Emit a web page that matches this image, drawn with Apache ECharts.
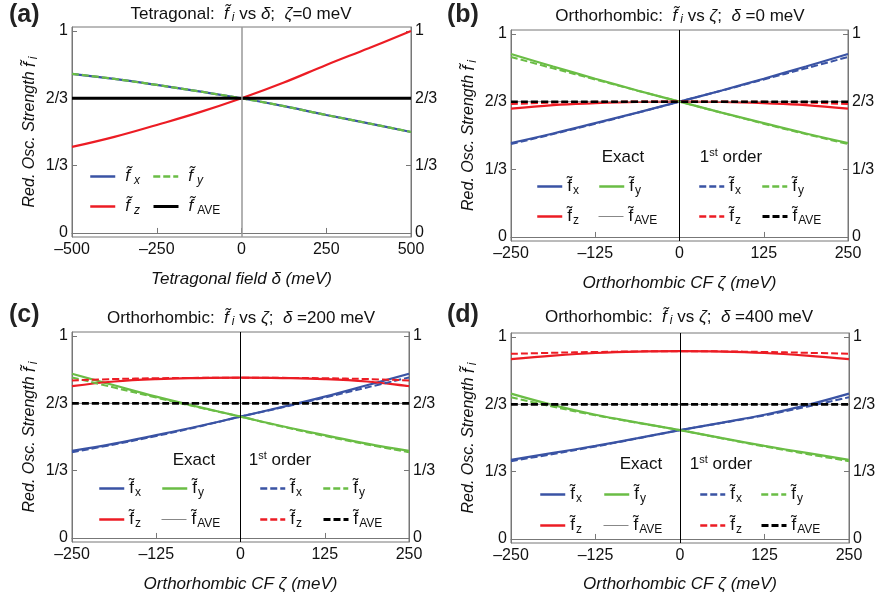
<!DOCTYPE html>
<html><head><meta charset="utf-8">
<script src="https://cdn.jsdelivr.net/npm/echarts@6/dist/echarts.min.js"></script>
<style>html,body{margin:0;padding:0;background:#fff}#c{width:881px;height:600px}</style>
</head><body><div id="c"></div>
<script>
// ---------- data ----------
const deltaA = [-500, -375, -250, -125, 0, 125, 250, 375, 500];
const aFx = [0.788, 0.763, 0.733, 0.701, 0.667, 0.628, 0.584, 0.543, 0.500];
const aFy = [0.788, 0.763, 0.733, 0.701, 0.667, 0.628, 0.584, 0.543, 0.500];
const aFz = [0.426, 0.476, 0.535, 0.597, 0.667, 0.745, 0.832, 0.915, 1.000];
const aFave = [2/3, 2/3, 2/3, 2/3, 2/3, 2/3, 2/3, 2/3, 2/3];

const zeta = [-250, -187.5, -125, -62.5, 0, 62.5, 125, 187.5, 250];
const aveLine = [2/3, 2/3, 2/3, 2/3, 2/3, 2/3, 2/3, 2/3, 2/3];

const bFxE = [0.463, 0.510, 0.561, 0.613, 0.667, 0.722, 0.780, 0.840, 0.902];
const bFyE = [0.902, 0.840, 0.780, 0.722, 0.667, 0.613, 0.561, 0.510, 0.463];
const bFzE = [0.632, 0.650, 0.659, 0.665, 0.667, 0.665, 0.659, 0.650, 0.632];
const bFx1 = [0.458, 0.507, 0.558, 0.612, 0.667, 0.721, 0.776, 0.831, 0.887];
const bFy1 = [0.887, 0.831, 0.776, 0.721, 0.667, 0.612, 0.558, 0.507, 0.458];
const bFz1 = [0.655, 0.662, 0.666, 0.667, 0.667, 0.667, 0.666, 0.662, 0.655];

const cFxE = [0.431, 0.467, 0.509, 0.553, 0.601, 0.649, 0.700, 0.756, 0.813];
const cFyE = [0.813, 0.756, 0.700, 0.649, 0.601, 0.553, 0.509, 0.467, 0.431];
const cFzE = [0.752, 0.775, 0.787, 0.792, 0.794, 0.792, 0.787, 0.775, 0.752];
const cFx1 = [0.425, 0.463, 0.505, 0.551, 0.601, 0.647, 0.695, 0.745, 0.795];
const cFy1 = [0.795, 0.745, 0.695, 0.647, 0.601, 0.551, 0.505, 0.463, 0.425];
const cFz1 = [0.780, 0.787, 0.791, 0.793, 0.794, 0.793, 0.791, 0.787, 0.780];

const dFxE = [0.392, 0.426, 0.461, 0.499, 0.539, 0.576, 0.615, 0.663, 0.720];
const dFyE = [0.720, 0.663, 0.615, 0.576, 0.539, 0.499, 0.461, 0.426, 0.392];
const dFzE = [0.891, 0.908, 0.921, 0.928, 0.930, 0.928, 0.921, 0.908, 0.891];
const dFx1 = [0.385, 0.421, 0.458, 0.498, 0.539, 0.575, 0.612, 0.655, 0.702];
const dFy1 = [0.702, 0.655, 0.612, 0.575, 0.539, 0.498, 0.458, 0.421, 0.385];
const dFz1 = [0.917, 0.922, 0.926, 0.929, 0.930, 0.929, 0.926, 0.922, 0.917];

const yTicks = [0, 1/3, 2/3, 1];
const yTickLabels = ['0', '1/3', '2/3', '1'];

// ---------- style ----------
const FONT = '"Liberation Sans", Arial, Helvetica, sans-serif';
const BLUE = '#3a53a4', GREEN = '#6abd45', RED = '#ec1c24', BLACK = '#000';
const DASH = [7, 3];

const panels = [
  {id:'a', grid:{left:72, top:27, width:339, height:210}, xmin:-500, xmax:500, xint:250,
   xname:'Tetragonal field δ (meV)', xGap:34, zeroColor:'#999', zeroWidth:1.5},
  {id:'b', grid:{left:511, top:30, width:337, height:211}, xmin:-250, xmax:250, xint:125,
   xname:'Orthorhombic CF ζ (meV)', xGap:34, zeroColor:'#000', zeroWidth:1},
  {id:'c', grid:{left:72, top:332, width:337, height:210}, xmin:-250, xmax:250, xint:125,
   xname:'Orthorhombic CF ζ (meV)', xGap:34, zeroColor:'#000', zeroWidth:1},
  {id:'d', grid:{left:511, top:333, width:338, height:210}, xmin:-250, xmax:250, xint:125,
   xname:'Orthorhombic CF ζ (meV)', xGap:33, zeroColor:'#000', zeroWidth:1}
];

const pair = (xs, ys) => xs.map((x, i) => [x, ys[i]]);

const grids = [], xAxes = [], yAxes = [], series = [], legends = [], graphics = [];

panels.forEach((p, gi) => {
  grids.push(Object.assign({show:true, borderColor:'#777', borderWidth:1, backgroundColor:'transparent'}, p.grid));
  xAxes.push({
    type:'value', gridIndex:gi, min:p.xmin, max:p.xmax, interval:p.xint,
    axisLine:{show:true, lineStyle:{color:'#777', width:1}},
    axisTick:{show:true, inside:true, length:5, lineStyle:{color:'#777'}},
    splitLine:{show:false},
    axisLabel:{fontFamily:FONT, fontSize:16, color:'#111', margin:5,
      formatter: v => v < 0 ? '\u2013' + (-v) : String(v)},
    name:p.xname, nameLocation:'middle', nameGap:p.xGap,
    nameTextStyle:{fontFamily:FONT, fontSize:17, fontStyle:'italic', color:'#111'}
  });
  const yBase = {
    type:'value', gridIndex:gi, min:-0.02, max:1.02,
    splitLine:{show:false},
    axisLine:{show:true, onZero:false, lineStyle:{color:'#777', width:1}},
    axisTick:{show:true, inside:true, length:5, customValues:yTicks, lineStyle:{color:'#777'}},
    axisLabel:{fontFamily:FONT, fontSize:16, color:'#111', margin:4, customValues:yTicks,
      formatter: v => yTickLabels[Math.round(v * 3)]}
  };
  yAxes.push(Object.assign({}, yBase, {
    position:'left',
    name:'Red. Osc. Strength {f|f\u0303}{s|i}', nameLocation:'middle', nameGap:32,
    nameTextStyle:{fontFamily:FONT, fontSize:16, fontStyle:'italic', color:'#111',
      rich:{f:{fontFamily:FONT, fontSize:17, fontStyle:'italic', lineHeight:20},
            s:{fontFamily:FONT, fontSize:12, fontStyle:'italic', lineHeight:12, verticalAlign:'bottom', padding:[0,0,0,3]}}}
  }));
  yAxes.push(Object.assign({}, yBase, {position:'right'}));
});

function addSeries(name, gi, xs, ys, color, width, type, z, zero) {
  const s = {
    name, type:'line', xAxisIndex:gi, yAxisIndex:gi*2, data:pair(xs, ys),
    smooth:0.4, symbol:'none', showSymbol:false, silent:true, z:z || 2,
    lineStyle:{color, width, type:type || 'solid'}, itemStyle:{color},
    emphasis:{disabled:true}
  };
  if (zero) {
    s.markLine = {silent:true, symbol:['none','none'], label:{show:false}, animation:false,
      lineStyle:{color:zero.color, width:zero.width, type:'solid'}, data:[{xAxis:0}]};
  }
  series.push(s);
}

// panel (a)
addSeries('a_x', 0, deltaA, aFx, BLUE, 2.2, 'solid', 2, {color:panels[0].zeroColor, width:panels[0].zeroWidth});
addSeries('a_y', 0, deltaA, aFy, GREEN, 2.2, DASH, 3);
addSeries('a_z', 0, deltaA, aFz, RED, 2.2, 'solid', 3);
addSeries('a_a', 0, deltaA, aFave, BLACK, 3, 'solid', 4);

const setsBCD = [
  ['b', 1, bFxE, bFyE, bFzE, bFx1, bFy1, bFz1],
  ['c', 2, cFxE, cFyE, cFzE, cFx1, cFy1, cFz1],
  ['d', 3, dFxE, dFyE, dFzE, dFx1, dFy1, dFz1]
];
setsBCD.forEach(([id, gi, fxE, fyE, fzE, fx1, fy1, fz1]) => {
  addSeries(id + '_xE', gi, zeta, fxE, BLUE, 2.2, 'solid', 2, {color:panels[gi].zeroColor, width:panels[gi].zeroWidth});
  addSeries(id + '_yE', gi, zeta, fyE, GREEN, 2.2, 'solid', 2);
  addSeries(id + '_zE', gi, zeta, fzE, RED, 2.2, 'solid', 2);
  addSeries(id + '_aE', gi, zeta, aveLine, '#888', 1, 'solid', 2);
  addSeries(id + '_x1', gi, zeta, fx1, BLUE, 2, DASH, 3);
  addSeries(id + '_y1', gi, zeta, fy1, GREEN, 2, DASH, 3);
  addSeries(id + '_z1', gi, zeta, fz1, RED, 2, DASH, 3);
  addSeries(id + '_a1', gi, zeta, aveLine, BLACK, 2.6, DASH, 4);
});

// ---------- legends (one per item for exact placement) ----------
const subs = {x:'x', y:'y', z:'z', a:'AVE'};
function legendItem(name, left, cy, italic, width, textPad) {
  const key = name.split('_')[1][0];
  const it = italic && key !== 'a';
  legends.push({
    data:[name], left, top:cy - 10, orient:'horizontal',
    itemWidth:25, itemHeight:14, itemGap:0, selectedMode:false, padding:0,
    lineStyle:{width:width},
    itemStyle:{opacity:0, borderWidth:0},
    formatter: () => '{f|f\u0303}{s|' + subs[key] + '}',
    textStyle:{fontFamily:FONT, color:'#111',
      rich:{
        f:{fontFamily:FONT, fontSize:17, fontStyle: italic ? 'italic' : 'normal', lineHeight:20, padding:[0,0,0,textPad]},
        s:{fontFamily:FONT, fontSize:12, fontStyle: it ? 'italic' : 'normal', lineHeight:12, verticalAlign:'bottom', padding:[0,0,0,italic ? 4 : 1]}
      }}
  });
}
// (a)
legendItem('a_x', 89, 178, true, 2.5, 5);
legendItem('a_y', 152, 178, true, 2.5, 5);
legendItem('a_z', 89, 208, true, 2.5, 5);
legendItem('a_a', 152, 208, true, 3, 5);

const legPos = {
  b:{ex:536, ey:598, fx:698, fy:761, r1:188, r2:218, exactX:623, firstX:731, head:157},
  c:{ex:98, ey:161, fx:259, fy:322, r1:490, r2:521, exactX:194, firstX:280, head:460},
  d:{ex:539, ey:603, fx:699, fy:760, r1:496, r2:527, exactX:641, firstX:721, head:464}
};
Object.keys(legPos).forEach(id => {
  const L = legPos[id];
  legendItem(id + '_xE', L.ex, L.r1, false, 2.5, 0);
  legendItem(id + '_yE', L.ey, L.r1, false, 2.5, 0);
  legendItem(id + '_zE', L.ex, L.r2, false, 2.5, 0);
  legendItem(id + '_aE', L.ey, L.r2, false, 1, 0);
  legendItem(id + '_x1', L.fx, L.r1, false, 2.5, 0);
  legendItem(id + '_y1', L.fy, L.r1, false, 2.5, 0);
  legendItem(id + '_z1', L.fx, L.r2, false, 2.5, 0);
  legendItem(id + '_a1', L.fy, L.r2, false, 3, 0);
  graphics.push({type:'text', x:L.exactX, y:L.head, silent:true,
    style:{text:'Exact', fontFamily:FONT, fontSize:17, fill:'#111', align:'center', verticalAlign:'middle'}});
  graphics.push({type:'text', x:L.firstX, y:L.head, silent:true,
    style:{text:'{n|1}{sup|st}{n| order}', fontFamily:FONT, fontSize:17, fill:'#111', align:'center', verticalAlign:'middle',
      rich:{n:{fontFamily:FONT, fontSize:17, fill:'#111', lineHeight:20},
            sup:{fontFamily:FONT, fontSize:11, fill:'#111', lineHeight:10, verticalAlign:'top'}}}});
});

// ---------- titles and panel labels ----------
const titleRich = {
  n:{fontFamily:FONT, fontSize:17, fill:'#111', lineHeight:20},
  f:{fontFamily:FONT, fontSize:17, fontStyle:'italic', fill:'#111', lineHeight:20},
  s:{fontFamily:FONT, fontSize:12, fontStyle:'italic', fill:'#111', lineHeight:11, verticalAlign:'bottom', padding:[0,0,0,3]},
  g:{fontFamily:FONT, fontSize:17, fontStyle:'italic', fill:'#111', lineHeight:20}
};
const titles = [
  {x:241, y:14, t:'{n|Tetragonal:  }{f|f\u0303}{s|i}{n| vs }{g|δ}{n|;  }{g|ζ}{n|=0 meV}'},
  {x:680, y:16, t:'{n|Orthorhombic:  }{f|f\u0303}{s|i}{n| vs }{g|ζ}{n|;  }{g|δ}{n| =0 meV}'},
  {x:241, y:318, t:'{n|Orthorhombic:  }{f|f\u0303}{s|i}{n| vs }{g|ζ}{n|;  }{g|δ}{n| =200 meV}'},
  {x:679, y:317, t:'{n|Orthorhombic:  }{f|f\u0303}{s|i}{n| vs }{g|ζ}{n|;  }{g|δ}{n| =400 meV}'}
];
titles.forEach(T => graphics.push({type:'text', x:T.x, y:T.y, silent:true,
  style:{text:T.t, fontFamily:FONT, fontSize:17, fill:'#111', align:'center', verticalAlign:'middle', rich:titleRich}}));
[['(a)', 9, 15], ['(b)', 447, 15], ['(c)', 9, 315], ['(d)', 447, 315]].forEach(([t, x, y]) =>
  graphics.push({type:'text', x, y, silent:true,
    style:{text:t, fontFamily:FONT, fontSize:25, fontWeight:'bold', fill:'#222', align:'left', verticalAlign:'middle'}}));

const chart = echarts.init(document.getElementById('c'), null, {renderer:'canvas'});
chart.setOption({
  animation:false,
  backgroundColor:'#fff',
  textStyle:{fontFamily:FONT},
  grid:grids, xAxis:xAxes, yAxis:yAxes, series, legend:legends, graphic:graphics
});
</script></body></html>
